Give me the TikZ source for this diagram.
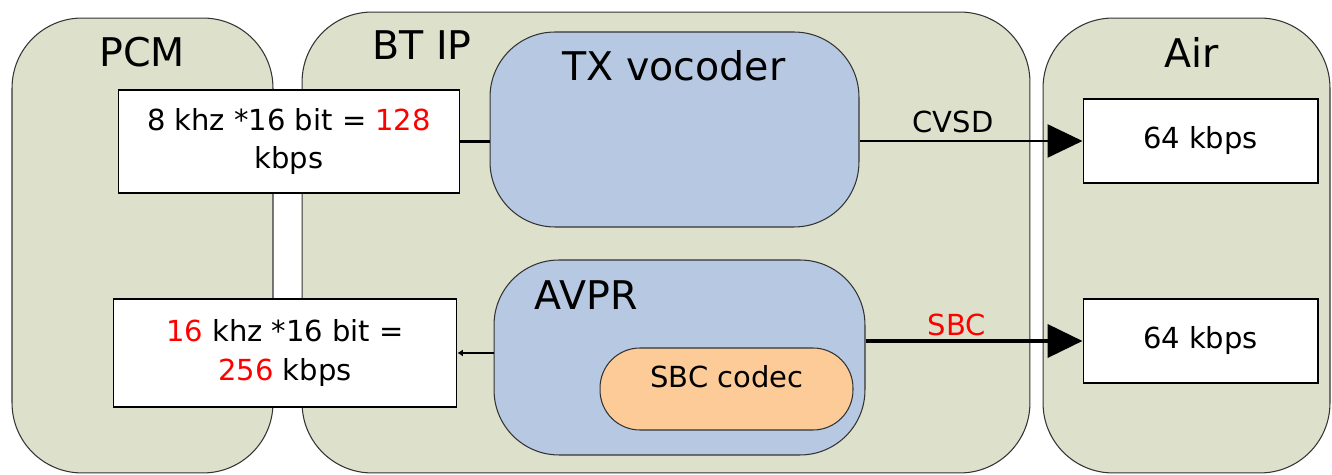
\documentclass[tikz,border=0pt]{standalone}
\usepackage{fontspec}
\setmainfont{DejaVu Sans}
\usetikzlibrary{arrows.meta}
\definecolor{panelgreen}{RGB}{221,225,203}
\definecolor{blockblue}{RGB}{183,200,226}
\definecolor{codecorange}{RGB}{252,203,152}
\tikzset{
  panel/.style={draw=black!80, fill=panelgreen, rounded corners=1.4cm, line width=0.6pt},
  block/.style={draw=black!80, fill=blockblue, rounded corners=1.3cm, line width=0.6pt},
  codec/.style={draw=black!80, fill=codecorange, rounded corners=0.8cm, line width=0.6pt},
  ratebox/.style={draw, fill=white, line width=0.6pt, align=center, font=\fontsize{16.5}{22}\selectfont},
  title/.style={font=\fontsize{22.5}{26}\selectfont},
  body/.style={font=\fontsize{16.5}{22}\selectfont},
  link/.style={line width=1.2pt},
  flow/.style={line width=1.4pt, -{Triangle[length=0.7cm,width=0.66cm]}},
}
\begin{document}
\begin{tikzpicture}[x=0.02cm,y=-0.02cm]
\useasboundingbox (0,0) rectangle (1332,475);
% containers
\node[panel, minimum width=5.22cm, minimum height=9.10cm] (pcm) at (142.5,245.5) {};
\node[panel, minimum width=14.56cm, minimum height=9.22cm] (btip) at (666,242.5) {};
\node[panel, minimum width=5.74cm, minimum height=9.10cm] (air) at (1186.5,245.5) {};
\node[title] (pcmtitle) at (142,52) {PCM};
\node[title] (btiptitle) at (422,45) {BT IP};
\node[title] (airtitle) at (1192,52) {Air};
% blocks
\node[block, minimum width=7.38cm, minimum height=3.9cm] (txvoc) at (674.5,129.5) {};
\node[title] (txtitle) at (674,66) {TX vocoder};
\node[block, minimum width=7.42cm, minimum height=3.9cm] (avpr) at (679.5,357.5) {};
\node[title] (avprtitle) at (586,295) {AVPR};
\node[codec, minimum width=5.06cm, minimum height=1.64cm] (sbc) at (726.5,389) {};
\node[body] (sbctitle) at (727,377) {SBC codec};
% rate boxes
\node[ratebox, minimum width=6.84cm, minimum height=2.06cm] (rate8) at (289,141.5)
  {8 khz *16 bit = \textcolor{red}{128}\\kbps};
\node[ratebox, minimum width=6.88cm, minimum height=2.16cm] (rate16) at (285,353)
  {\textcolor{red}{16} khz *16 bit =\\\textcolor{red}{256} kbps};
\node[ratebox, minimum width=4.7cm, minimum height=1.68cm] (air1) at (1200.5,141) {64 kbps};
\node[ratebox, minimum width=4.7cm, minimum height=1.68cm] (air2) at (1200.5,341) {64 kbps};
% connectors
\draw[link] (rate8.east) -- (rate8.east -| txvoc.west);
\draw[link, line width=1.7pt, -{Latex[length=3pt,width=4pt]}] (avpr.west |- rate16.east) -- (rate16.east);
\draw[flow] (txvoc.east |- air1.west) -- (air1.west)
  node[body, above, pos=0.42, inner sep=4pt] {CVSD};
\draw[flow, line width=2.3pt] (avpr.east |- air2.west) -- (air2.west)
  node[body, above, pos=0.42, inner sep=2pt, text=red] {SBC};
\end{tikzpicture}
\end{document}
